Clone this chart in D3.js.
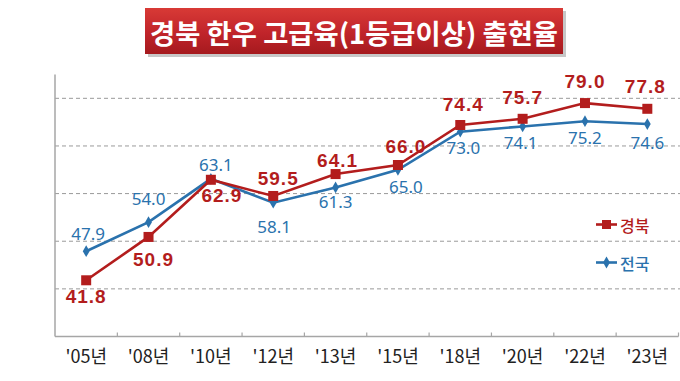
<!DOCTYPE html>
<html>
<head>
<meta charset="utf-8">
<script src="https://cdn.jsdelivr.net/npm/d3@7"></script>
<style>
  body { margin: 0; background: #fff; }
  svg { display: block; }
</style>
</head>
<body>
<div id="chart"></div>
<script>
// data
var years = ["'05년", "'08년", "'10년", "'12년", "'13년", "'15년", "'18년", "'20년", "'22년", "'23년"];
var gyeongbuk = [41.8, 50.9, 62.9, 59.5, 64.1, 66.0, 74.4, 75.7, 79.0, 77.8];
var national = [47.9, 54.0, 63.1, 58.1, 61.3, 65.0, 73.0, 74.1, 75.2, 74.6];
var gridValues = [40, 50, 60, 70, 80];

// label placement (offset of label centre from its point), layout only
var redLabelOffset = [[0, 16], [5, 23], [11, 16], [5, -17], [2, -14], [8, -19], [3, -20], [0, -21], [0, -22], [-2, -22]];
var blueLabelOffset = [[2, -18], [0, -24], [5, -14], [1, 24], [0, 14], [8, 17], [3, 16], [-2, 16], [0, 16], [0, 18]];

var W = 680, H = 381;
var plotLeft = 55, plotRight = 678.5, plotTop = 74.5, plotBottom = 336.5;
var red = "#b31d1d", blue = "#2a72ad";

var svg = d3.select("#chart").append("svg").attr("width", W).attr("height", H);

// title box
var defs = svg.append("defs");
var grad = defs.append("linearGradient").attr("id", "tg").attr("x1", 0).attr("y1", 0).attr("x2", 0).attr("y2", 1);
grad.append("stop").attr("offset", "0%").attr("stop-color", "#d83a36");
grad.append("stop").attr("offset", "55%").attr("stop-color", "#c0242a");
grad.append("stop").attr("offset", "100%").attr("stop-color", "#a51a1e");

svg.append("rect").attr("x", 148).attr("y", 11).attr("width", 418).attr("height", 46).attr("fill", "#999").attr("opacity", 0.55);
svg.append("rect").attr("x", 145).attr("y", 8).attr("width", 418).attr("height", 46).attr("fill", "url(#tg)");
svg.append("text")
  .attr("x", 354).attr("y", 32)
  .attr("text-anchor", "middle").attr("dominant-baseline", "central")
  .attr("font-family", "'Noto Sans CJK KR', sans-serif")
  .attr("font-weight", "bold").attr("font-size", 27)
  .attr("textLength", 408).attr("lengthAdjust", "spacingAndGlyphs")
  .attr("fill", "#fff")
  .text("경북 한우 고급육(1등급이상) 출현율");

var x = d3.scaleBand().domain(years).range([plotLeft, plotRight]);
var y = d3.scaleLinear().domain([30, 85]).range([plotBottom, plotTop]);
var cx = function(i) { return x(years[i]) + x.bandwidth() / 2; };

// grid
svg.selectAll("line.grid").data(gridValues).enter().append("line")
  .attr("class", "grid")
  .attr("x1", plotLeft).attr("x2", W)
  .attr("y1", function(d) { return y(d); }).attr("y2", function(d) { return y(d); })
  .attr("stroke", "#9a9a9a").attr("stroke-width", 1).attr("stroke-dasharray", "4,3");

// axes
svg.append("line").attr("x1", plotLeft).attr("x2", plotLeft).attr("y1", plotTop).attr("y2", plotBottom)
  .attr("stroke", "#a6a6a6").attr("stroke-width", 1.5);
svg.append("line").attr("x1", plotLeft).attr("x2", plotRight).attr("y1", plotBottom).attr("y2", plotBottom)
  .attr("stroke", "#a6a6a6").attr("stroke-width", 1.5);
svg.selectAll("line.xtick").data(years.slice(1).concat(["end"])).enter().append("line")
  .attr("class", "xtick")
  .attr("x1", function(d) { return d === "end" ? plotRight : x(d); })
  .attr("x2", function(d) { return d === "end" ? plotRight : x(d); })
  .attr("y1", plotBottom).attr("y2", plotBottom - 4)
  .attr("stroke", "#a6a6a6").attr("stroke-width", 1.2);

var xAxis = d3.axisBottom(x).tickSize(0).tickPadding(0);
var gx = svg.append("g").attr("transform", "translate(0," + plotBottom + ")").call(xAxis);
gx.select(".domain").remove();
gx.selectAll(".tick text")
  .attr("dy", 0).attr("y", 18).attr("dominant-baseline", "central")
  .attr("font-family", "'Liberation Sans Narrow', 'Noto Sans CJK KR', sans-serif")
  .attr("font-size", 18).attr("fill", "#222");

// lines
var line = function(vals) {
  return d3.line().x(function(d, i) { return cx(i); }).y(function(d) { return y(d); })(vals);
};
svg.append("path").attr("d", line(national)).attr("fill", "none").attr("stroke", blue).attr("stroke-width", 2.6);
svg.append("path").attr("d", line(gyeongbuk)).attr("fill", "none").attr("stroke", red).attr("stroke-width", 2.6);

var diamond = d3.symbol().type(d3.symbolDiamond).size(40);
svg.selectAll("path.bm").data(national).enter().append("path")
  .attr("class", "bm").attr("d", diamond)
  .attr("transform", function(d, i) { return "translate(" + cx(i) + "," + y(d) + ")"; })
  .attr("fill", blue);

svg.selectAll("rect.rm").data(gyeongbuk).enter().append("rect")
  .attr("class", "rm")
  .attr("x", function(d, i) { return cx(i) - 5; })
  .attr("y", function(d) { return y(d) - 5; })
  .attr("width", 10).attr("height", 10)
  .attr("fill", red);

// value labels
svg.selectAll("text.bl").data(national).enter().append("text")
  .attr("class", "bl")
  .attr("x", function(d, i) { return cx(i) + blueLabelOffset[i][0]; })
  .attr("y", function(d, i) { return y(d) + blueLabelOffset[i][1]; })
  .attr("text-anchor", "middle").attr("dominant-baseline", "central")
  .attr("font-family", "'Noto Sans', sans-serif").attr("font-size", 17)
  .attr("fill", blue)
  .text(function(d) { return d.toFixed(1); });

svg.selectAll("text.rl").data(gyeongbuk).enter().append("text")
  .attr("class", "rl")
  .attr("x", function(d, i) { return cx(i) + redLabelOffset[i][0]; })
  .attr("y", function(d, i) { return y(d) + redLabelOffset[i][1]; })
  .attr("text-anchor", "middle").attr("dominant-baseline", "central")
  .attr("font-family", "'Liberation Sans', Arial, sans-serif").attr("font-weight", "bold")
  .attr("font-size", 19).attr("letter-spacing", 1)
  .attr("fill", red)
  .text(function(d) { return d.toFixed(1); });

// legend
var legend = [
  { name: "경북", color: red, y: 224.5, square: true },
  { name: "전국", color: blue, y: 262.5, square: false }
];
var lg = svg.selectAll("g.legend").data(legend).enter().append("g")
  .attr("class", "legend")
  .attr("transform", function(d) { return "translate(596," + d.y + ")"; });
lg.append("line").attr("x1", 0).attr("x2", 21).attr("y1", 0).attr("y2", 0)
  .attr("stroke", function(d) { return d.color; }).attr("stroke-width", 2.6);
lg.filter(function(d) { return d.square; }).append("rect")
  .attr("x", 6).attr("y", -4.5).attr("width", 9).attr("height", 9)
  .attr("fill", function(d) { return d.color; });
lg.filter(function(d) { return !d.square; }).append("path")
  .attr("d", diamond).attr("transform", "translate(10.5,0)")
  .attr("fill", function(d) { return d.color; });
lg.append("text")
  .attr("x", 24).attr("y", 0).attr("dominant-baseline", "central")
  .attr("font-family", "'Noto Sans CJK KR', sans-serif").attr("font-size", 16)
  .attr("font-weight", 500)
  .attr("fill", function(d) { return d.color; })
  .text(function(d) { return d.name; });
</script>
</body>
</html>
